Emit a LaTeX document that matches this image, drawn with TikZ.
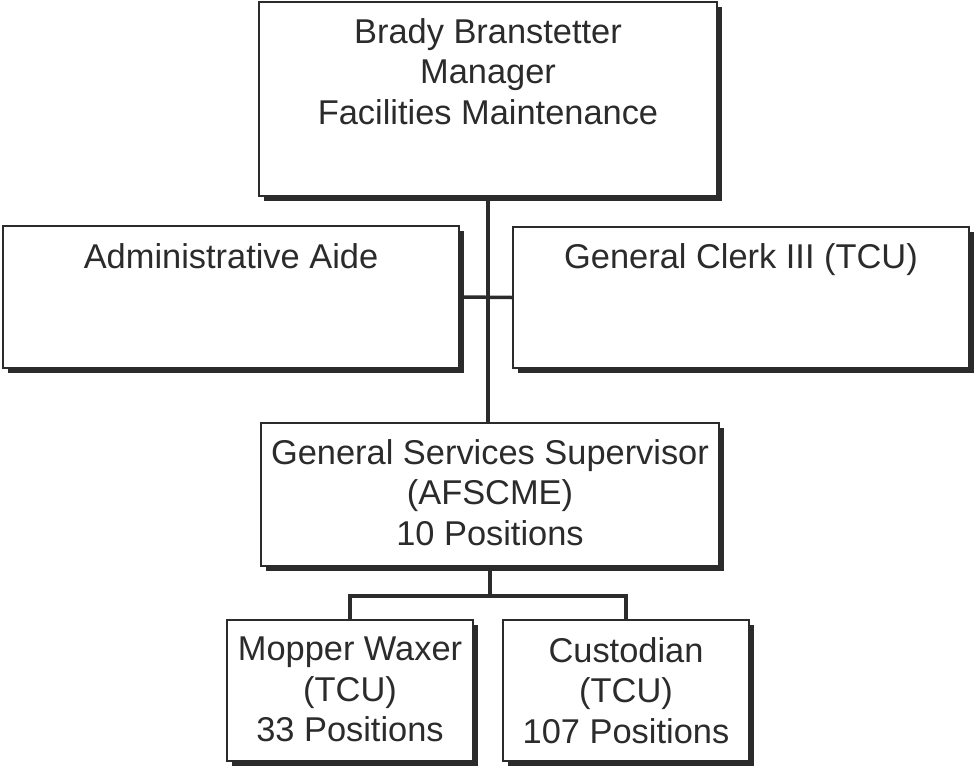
\documentclass[tikz,border=0pt]{standalone}
\usepackage{fontspec}
\setmainfont{Liberation Sans}
\usetikzlibrary{shadows}
\definecolor{ink}{HTML}{2B2B2B}
\tikzset{
  box/.style={draw=ink, line width=2pt, fill=white, rectangle, inner sep=0pt,
    drop shadow={shadow xshift=4.5pt, shadow yshift=-4.5pt, fill=ink, opacity=1}},
  lbl/.style={text=ink, align=center, inner sep=0pt, font=\fontsize{34.4}{40.5}\selectfont},
  conn/.style={draw=ink, line width=3.5pt}
}
\begin{document}
\begin{tikzpicture}[x=1pt,y=-1pt]
\useasboundingbox (0,0) rectangle (974,766);
% boxes
\node[box, minimum width=458pt, minimum height=194pt] (top) at (488,99) {};
\node[box, minimum width=456pt, minimum height=142pt] (admin) at (231,297) {};
\node[box, minimum width=456pt, minimum height=141pt] (clerk) at (741,297.5) {};
\node[box, minimum width=458pt, minimum height=143pt] (sup) at (490,494.5) {};
\node[box, minimum width=246pt, minimum height=141pt] (mop) at (350,690.5) {};
\node[box, minimum width=246pt, minimum height=141pt] (cus) at (626,690.5) {};
% junction
\coordinate (j2) at (489,596);
% connectors
\draw[conn] (top.south) -- (top.south |- sup.north);
\draw[conn] (admin.east) -- (clerk.west);
\draw[conn] (sup.south) -- (sup.south |- j2);
\draw[conn] (mop.north) |- (sup.south |- j2) -| (cus.north);
% labels
\node[lbl, anchor=north] (topT) at (488,18) {Brady Branstetter\\Manager\\Facilities Maintenance};
\node[lbl, anchor=north] (adminT) at (231,243) {Administrative Aide};
\node[lbl, anchor=north] (clerkT) at (741,243) {General Clerk III (TCU)};
\node[lbl, anchor=north] (supTx) at (490,439) {General Services Supervisor\\(AFSCME)\\10 Positions};
\node[lbl, anchor=north] (mopTx) at (350,637) {Mopper Waxer\\(TCU)\\33 Positions};
\node[lbl, anchor=north] (cusTx) at (626,637) {Custodian\\(TCU)\\107 Positions};
\end{tikzpicture}
\end{document}
